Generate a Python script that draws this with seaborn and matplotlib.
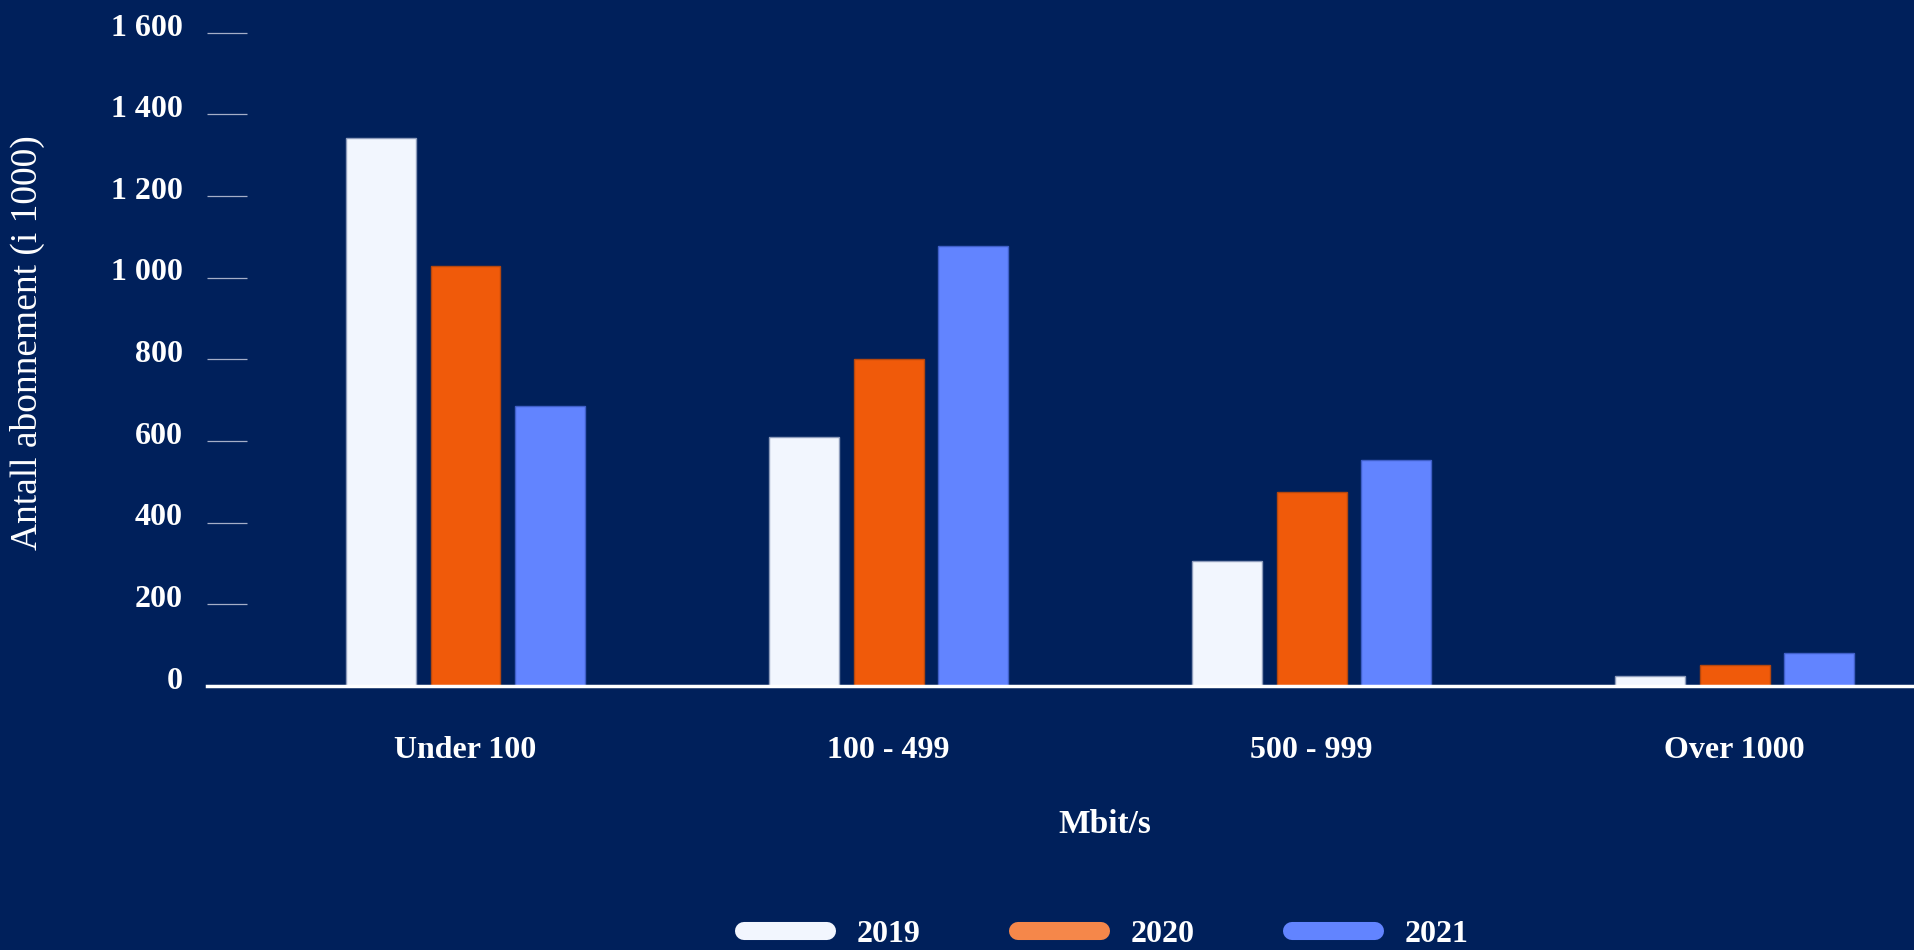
import matplotlib.pyplot as plt
import matplotlib.transforms as mtransforms
import pandas as pd
import seaborn as sns
from matplotlib.lines import Line2D

# Data (thousands of subscriptions)
categories = ['Under 100', '100 - 499', '500 - 999', 'Over 1000']
years = ['2019', '2020', '2021']
values_2019 = [1343, 610, 305, 25]
values_2020 = [1029, 801, 475, 50]
values_2021 = [686, 1079, 553, 80]
y_ticks = [0, 200, 400, 600, 800, 1000, 1200, 1400, 1600]
y_tick_labels = ['0', '200', '400', '600', '800', '1 000', '1 200', '1 400', '1 600']

bg = '#00205B'
bar_colors = ['#F2F6FE', '#F05A0A', '#6284FF']
edge_colors = ['#8d9bbb', '#b4470e', '#3f5fc8']
legend_colors = ['#F2F6FE', '#F5874A', '#6284FF']

df = pd.DataFrame({
    'Mbit/s': categories * 3,
    'year': [y for y in years for _ in categories],
    'value': values_2019 + values_2020 + values_2021,
})

sns.set_style('dark', {'axes.facecolor': bg, 'figure.facecolor': bg})
plt.rcParams['font.family'] = ['Liberation Serif', 'DejaVu Serif']

fig = plt.figure(figsize=(19.14, 9.5), dpi=100, facecolor=bg)
ax = fig.add_axes([0.108, 0.278, 0.892, 0.6874])
ax.set_facecolor(bg)

sns.barplot(data=df, x='Mbit/s', y='value', hue='year', palette=bar_colors,
            width=0.6, gap=0.175, ax=ax, legend=False, saturation=1)

for cont, ec in zip(ax.containers, edge_colors):
    for p in cont:
        p.set_edgecolor(ec)
        p.set_linewidth(1)

ax.set_xlim(-0.612, 3.424)
ax.set_ylim(0, 1600)
ax.set_yticks(y_ticks)
ax.set_yticklabels(y_tick_labels)

for s in ['top', 'right', 'left']:
    ax.spines[s].set_visible(False)
ax.spines['bottom'].set_color('white')
ax.spines['bottom'].set_linewidth(2.5)
ax.spines['bottom'].set_zorder(5)

ax.tick_params(axis='y', left=True, direction='in', length=29, width=0.9, color='#a5aec8',
               pad=17, labelsize=23, labelcolor='white')
ax.tick_params(axis='x', bottom=False, length=0, pad=36, labelsize=23, labelcolor='white')
for lbl in ax.get_xticklabels() + ax.get_yticklabels():
    lbl.set_fontweight('bold')

# y tick labels sit a little above their tick lines
shift = mtransforms.ScaledTranslation(0, 6 / 72, fig.dpi_scale_trans)
for lbl in ax.get_yticklabels():
    lbl.set_transform(lbl.get_transform() + shift)

ax.set_ylabel('Antall abonnement (i 1000)', color='white', fontsize=27)
ax.set_xlabel('Mbit/s', color='white', fontsize=24, fontweight='bold')
ax.xaxis.set_label_coords(0.526, -0.188)
ax.yaxis.set_label_coords(-0.095, 0.525)

handles = [Line2D([0], [0], color=c, lw=13, solid_capstyle='round') for c in legend_colors]
fig.legend(handles, years, loc='center', bbox_to_anchor=(0.578, 0.016), ncol=3,
           frameon=False, labelcolor='white', handlelength=2.6,
           columnspacing=3.05, handletextpad=0.93, prop={'weight': 'bold', 'size': 23})

fig.savefig('out.png', facecolor=bg)
